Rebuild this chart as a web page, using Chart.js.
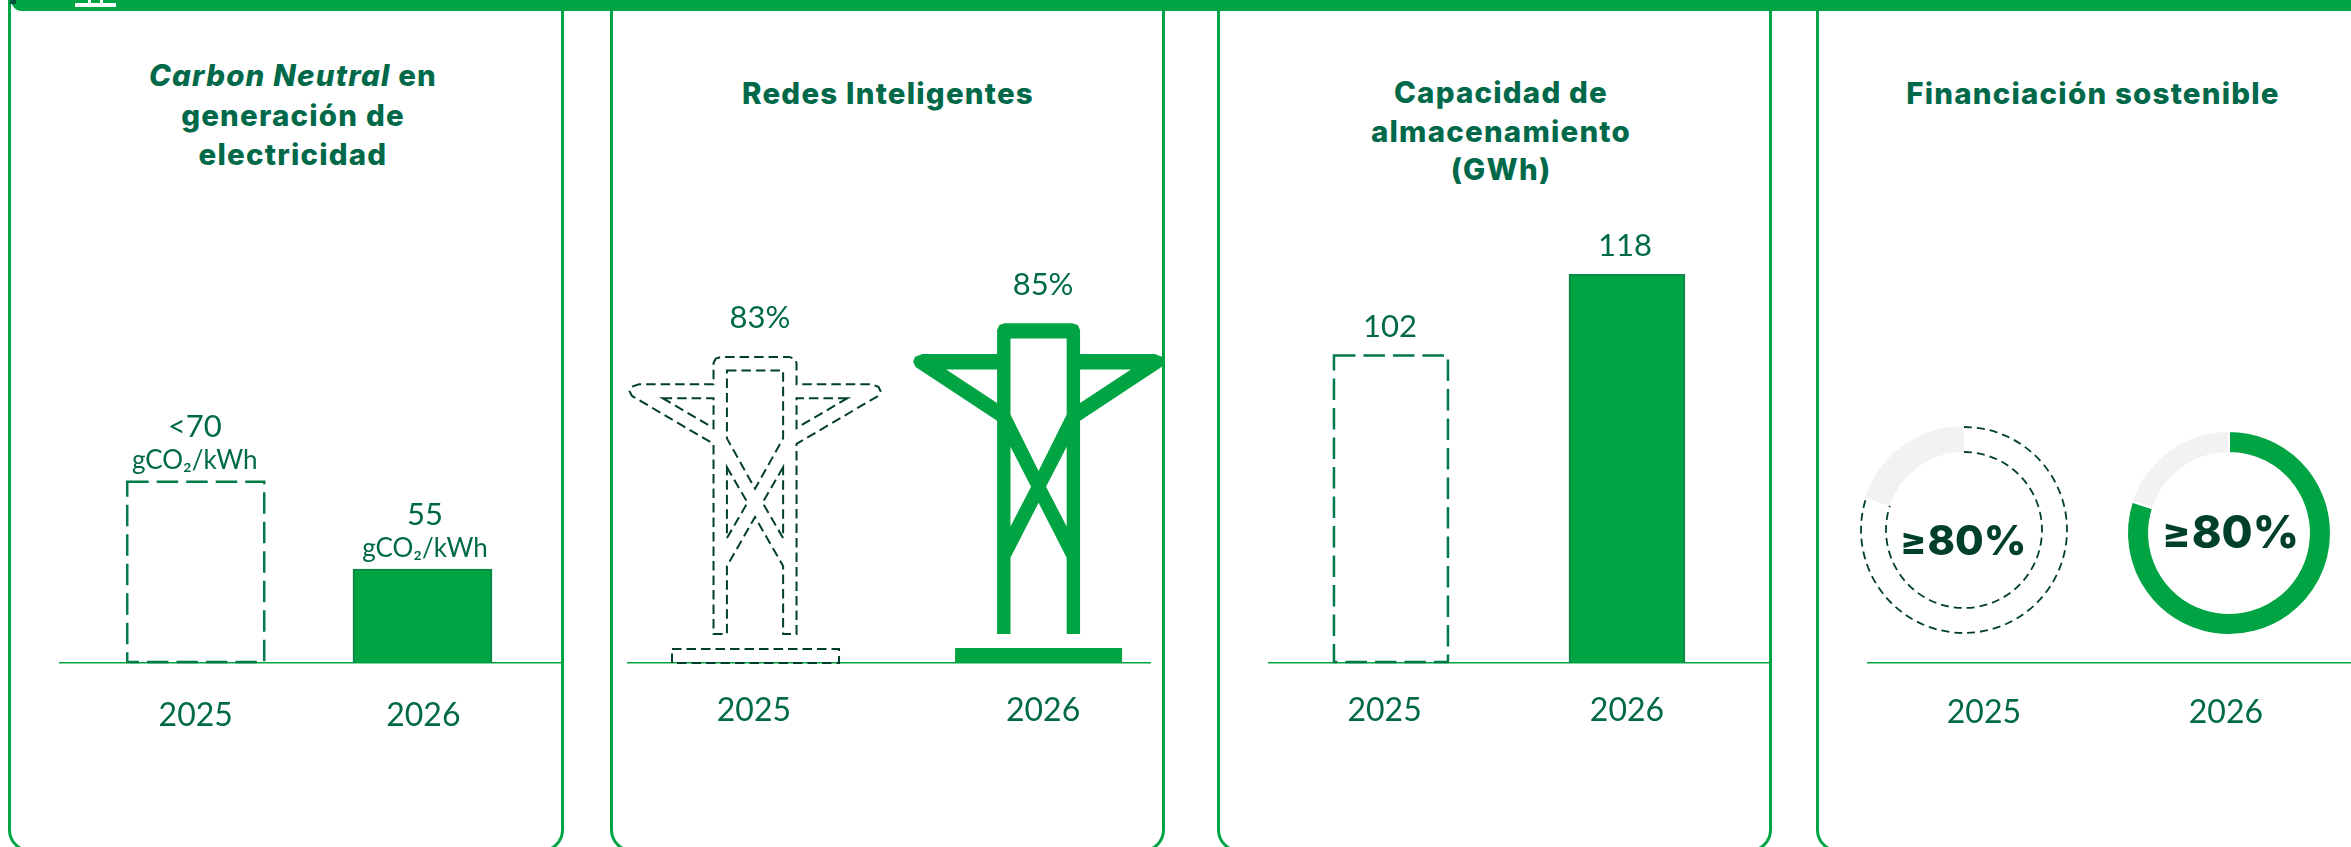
<!DOCTYPE html>
<html lang="es">
<head>
<meta charset="utf-8">
<title>Objetivos 2025-2026</title>
<script src="https://cdn.jsdelivr.net/npm/chart.js@4"></script>
<style>
  html, body { margin: 0; background: #fff; }
  #page { position: relative; width: 2351px; height: 847px; overflow: hidden; }
  #page canvas { position: absolute; top: 0; }
  .topbar { position: absolute; left: 11px; right: 0; top: 0; height: 11px; background: #00a443; border-bottom-left-radius: 20px; }
  .corner { position: absolute; left: 10px; top: 0; width: 6px; height: 4px; background: #00563a; }
  .icon { position: absolute; background: #fff; }
  .card { position: absolute; top: -30px; height: 882px; border: 3px solid #00a443; border-radius: 22px; box-sizing: border-box; background: #fff; }
  .title { position: absolute; transform: translateX(-50%); text-align: center; white-space: nowrap; font: 800 29.5px/38.5px Inter, sans-serif; letter-spacing: 1.2px; color: #00694a; }
</style>
</head>
<body>
<div id="page">
  <div class="card" style="left:8px;width:556px"></div>
  <div class="card" style="left:610px;width:555px"></div>
  <div class="card" style="left:1217px;width:555px"></div>
  <div class="card" style="left:1816px;width:600px"></div>
  <div class="topbar"></div>
  <div class="corner"></div>
  <div class="icon" style="left:75px;top:3px;width:41px;height:4px"></div>
  <div class="icon" style="left:88px;top:0;width:3px;height:4px"></div>
  <div class="icon" style="left:100px;top:0;width:3px;height:4px"></div>

  <div class="title" style="left:293px;top:56px;line-height:39.5px"><em>Carbon Neutral</em> en<br>generación de<br>electricidad</div>
  <div class="title" style="left:888px;top:74px">Redes Inteligentes</div>
  <div class="title" style="left:1501px;top:73px">Capacidad de<br>almacenamiento<br>(GWh)</div>
  <div class="title" style="left:2093px;top:74px">Financiación sostenible</div>

  <canvas id="carbonChart" style="left:59px" width="502" height="847"></canvas>
  <canvas id="redesChart" style="left:612px" width="556" height="847"></canvas>
  <canvas id="storageChart" style="left:1268px" width="502" height="847"></canvas>
  <canvas id="financeAxis" style="left:1867px" width="484" height="847"></canvas>
  <canvas id="finance2025" style="left:1844px;top:410px" width="240" height="240"></canvas>
  <canvas id="finance2026" style="left:2109px;top:413px" width="240" height="240"></canvas>
</div>

<script>
const years = ["2025", "2026"];

const carbonValues = [70, 55];
const carbonLabels = ["<70", "55"];
const carbonUnit = "gCO₂/kWh";

const redesValues = [83, 85];
const redesLabels = ["83%", "85%"];

const storageValues = [102, 118];
const storageLabels = ["102", "118"];

const financeValues = [80, 80];
const financeLabels = ["≥80%", "≥80%"];

const GREEN = "#00a443";
const TEXT = "#00694a";
const DARK = "#00402a";
const GREY = "#f2f2f2";
const BASE_Y = 663; // axis line sits here in every panel
const HEIGHT = 847;

// Pylon drawing: [px from the centre, fraction from top to leg ends]
const pylonOuter = [
  [-41.5, 0.022], [-39.2, 0.006], [-33.9, 0], [33.9, 0], [39.2, 0.006], [41.5, 0.022],
  [41.5, 0.099], [116, 0.099], [123.5, 0.108], [125.5, 0.124], [123, 0.141], [41.5, 0.314],
  [41.5, 1], [28.1, 1], [28.1, 0.755], [0, 0.578], [-28.1, 0.755], [-28.1, 1], [-41.5, 1],
  [-41.5, 0.314], [-123, 0.141], [-125.5, 0.124], [-123.5, 0.108], [-116, 0.099], [-41.5, 0.099],
];
const pylonHoles = [
  [[-28.1, 0.049], [28.1, 0.049], [28.1, 0.294], [0, 0.476], [-28.1, 0.294]],
  [[-28.1, 0.398], [-7.5, 0.526], [-28.1, 0.654]],
  [[28.1, 0.398], [7.5, 0.526], [28.1, 0.654]],
  [[-92.4, 0.149], [-41.5, 0.149], [-41.5, 0.257]],
  [[92.4, 0.149], [41.5, 0.149], [41.5, 0.257]],
];

// x axis on a linear scale so the two years can sit off-centre like the original
function yearAxis(min, max, padding, shift) {
  return {
    type: "linear",
    min: min,
    max: max,
    offset: false, // bar charts switch this on by default
    border: { display: true, color: GREEN, width: 1.5 },
    grid: { display: false, drawTicks: false },
    afterBuildTicks(scale) {
      scale.ticks = [{ value: shift[0] }, { value: 1 + shift[1] }];
    },
    afterFit(scale) {
      scale.height = HEIGHT - BASE_Y;
    },
    ticks: {
      padding: padding,
      autoSkip: false,
      maxRotation: 0,
      color: TEXT,
      font: { family: "Lato", size: 32 },
      callback: (value) => years[Math.round(value)],
    },
  };
}

function hiddenY(min, max) {
  return { display: false, min: min, max: max };
}

function barPoints(values) {
  return values.map((v, i) => ({ x: i, y: v }));
}

// text above each bar, with an optional smaller unit line under the value
const barLabels = {
  id: "barLabels",
  afterDatasetsDraw(chart, args, opts) {
    const ctx = chart.ctx;
    chart.getDatasetMeta(0).data.forEach((bar, i) => {
      ctx.save();
      ctx.fillStyle = TEXT;
      ctx.textAlign = "center";
      ctx.textBaseline = "middle";
      ctx.font = "31px Lato";
      ctx.fillText(opts.texts[i], bar.x + opts.shift[i], bar.y - opts.gap);
      if (opts.unit) {
        ctx.font = "26px Lato";
        ctx.fillText(opts.unit, bar.x + opts.shift[i], bar.y - 20);
      }
      ctx.restore();
    });
  },
};

// first bar of a panel is an empty dashed box, Chart.js bars have no borderDash
const dashedBar = {
  id: "dashedBar",
  afterDatasetsDraw(chart) {
    const bar = chart.getDatasetMeta(0).data[0];
    const ctx = chart.ctx;
    ctx.save();
    ctx.strokeStyle = "#007a48";
    ctx.lineWidth = 2.5;
    ctx.setLineDash([21.5, 8]);
    ctx.strokeRect(bar.x - bar.width / 2 + 1, bar.y + 1, bar.width - 2, bar.base - bar.y - 2);
    ctx.restore();
  },
};

function tracePolygon(ctx, points, cx, top, legs) {
  points.forEach((p, i) => {
    const x = cx + p[0];
    const y = top + p[1] * legs;
    if (i === 0) ctx.moveTo(x, y);
    else ctx.lineTo(x, y);
  });
  ctx.closePath();
}

// pylons take their height from the bar they replace
const pylons = {
  id: "pylons",
  afterDatasetsDraw(chart) {
    const ctx = chart.ctx;
    chart.getDatasetMeta(0).data.forEach((bar, i) => {
      const legs = bar.base - 29 - bar.y;
      ctx.save();
      ctx.beginPath();
      tracePolygon(ctx, pylonOuter, bar.x, bar.y, legs);
      pylonHoles.forEach((hole) => tracePolygon(ctx, hole, bar.x, bar.y, legs));
      if (i === 0) {
        ctx.strokeStyle = DARK;
        ctx.lineWidth = 2;
        ctx.setLineDash([9.5, 5]);
        ctx.stroke();
        ctx.strokeRect(bar.x - 83, bar.base - 14, 167, 14);
      } else {
        ctx.fillStyle = GREEN;
        ctx.fill("evenodd");
        ctx.fillRect(bar.x - 83.5, bar.base - 15, 167, 15);
      }
      ctx.restore();
    });
  },
};

const carbonMin = 39;
const redesMin = 64.86;
const storageMin = 40.4;

new Chart(document.getElementById("carbonChart"), {
  type: "bar",
  data: {
    datasets: [{
      data: barPoints(carbonValues),
      base: carbonMin,
      backgroundColor: ["rgba(0,0,0,0)", GREEN],
      borderColor: ["rgba(0,0,0,0)", "#0a8646"],
      borderWidth: 2,
      barThickness: 139,
    }],
  },
  options: {
    responsive: false,
    animation: false,
    plugins: {
      legend: { display: false },
      tooltip: { enabled: false },
      barLabels: { texts: carbonLabels, unit: carbonUnit, gap: 54, shift: [-1, 2.5] },
    },
    scales: { x: yearAxis(-0.603, 1.611, 33, [0, 0.004]), y: hiddenY(carbonMin, 151.8) },
  },
  plugins: [dashedBar, barLabels],
});

new Chart(document.getElementById("redesChart"), {
  type: "bar",
  data: {
    datasets: [{
      data: barPoints(redesValues),
      base: redesMin,
      backgroundColor: "rgba(0,0,0,0)",
      barThickness: 83,
    }],
  },
  options: {
    responsive: false,
    animation: false,
    layout: { padding: { left: 16, right: 18 } },
    plugins: {
      legend: { display: false },
      tooltip: { enabled: false },
      barLabels: { texts: redesLabels, gap: 38.5, shift: [5, 4.5] },
    },
    scales: { x: yearAxis(-0.448, 1.393, 28, [-0.004, 0.016]), y: hiddenY(redesMin, 104.15) },
  },
  plugins: [pylons, barLabels],
});

new Chart(document.getElementById("storageChart"), {
  type: "bar",
  data: {
    datasets: [{
      data: barPoints(storageValues),
      base: storageMin,
      backgroundColor: ["rgba(0,0,0,0)", GREEN],
      borderColor: ["rgba(0,0,0,0)", "#0a8646"],
      borderWidth: 2,
      barThickness: 116,
    }],
  },
  options: {
    responsive: false,
    animation: false,
    plugins: {
      legend: { display: false },
      tooltip: { enabled: false },
      barLabels: { texts: storageLabels, gap: 28, shift: [-1, -2] },
    },
    scales: { x: yearAxis(-0.521, 1.606, 28, [-0.027, 0]), y: hiddenY(storageMin, 172.8) },
  },
  plugins: [dashedBar, barLabels],
});

// panel 4: years and baseline only, the rings are separate doughnuts on top
new Chart(document.getElementById("financeAxis"), {
  type: "bar",
  data: { datasets: [{ data: [] }] },
  options: {
    responsive: false,
    animation: false,
    plugins: { legend: { display: false }, tooltip: { enabled: false } },
    scales: { x: yearAxis(-0.483, 1.517, 30, [0, 0]), y: hiddenY(0, 1) },
  },
});

// the ≥ sign is smaller than the digits in the original
const ringText = {
  id: "ringText",
  afterDatasetsDraw(chart, args, opts) {
    const arc = chart.getDatasetMeta(0).data[0];
    const ctx = chart.ctx;
    const sign = opts.text.charAt(0);
    const rest = opts.text.slice(1);
    ctx.save();
    ctx.fillStyle = DARK;
    ctx.textBaseline = "alphabetic";
    ctx.font = "800 " + opts.size + "px Inter";
    const restWidth = ctx.measureText(rest).width;
    const right = arc.x + opts.dx + opts.width / 2;
    ctx.textAlign = "right";
    ctx.fillText(rest, right, arc.y + opts.dy);
    ctx.font = "800 " + opts.size * 0.92 + "px Inter";
    ctx.fillText(sign, right - restWidth - 1, arc.y + opts.dy);
    ctx.restore();
  },
};

// dashed edges along the filled part of the 2025 ring, no radial sides
const dashedRing = {
  id: "dashedRing",
  afterDatasetsDraw(chart) {
    const arc = chart.getDatasetMeta(0).data[0];
    const ctx = chart.ctx;
    ctx.save();
    ctx.strokeStyle = DARK;
    ctx.lineWidth = 1.8;
    ctx.setLineDash([8, 5]);
    [arc.outerRadius - 1, arc.innerRadius].forEach((r) => {
      ctx.beginPath();
      ctx.arc(arc.x, arc.y, r, arc.startAngle, arc.endAngle);
      ctx.stroke();
    });
    ctx.restore();
  },
};

new Chart(document.getElementById("finance2025"), {
  type: "doughnut",
  data: {
    datasets: [{
      data: [financeValues[0], 100 - financeValues[0]],
      backgroundColor: ["rgba(0,0,0,0)", GREY],
      borderWidth: 0,
    }],
  },
  options: {
    responsive: false,
    animation: false,
    radius: 104,
    cutout: "75%",
    plugins: {
      legend: { display: false },
      tooltip: { enabled: false },
      ringText: { text: financeLabels[0], size: 41.5, width: 119, dx: 3, dy: 25 },
    },
  },
  plugins: [dashedRing, ringText],
});

new Chart(document.getElementById("finance2026"), {
  type: "doughnut",
  data: {
    datasets: [{
      data: [financeValues[1], 100 - financeValues[1]],
      backgroundColor: [GREEN, GREY],
      borderColor: "#fff",
      borderWidth: 2,
    }],
  },
  options: {
    responsive: false,
    animation: false,
    radius: 102,
    cutout: "78.4%",
    plugins: {
      legend: { display: false },
      tooltip: { enabled: false },
      ringText: { text: financeLabels[1], size: 45, width: 128, dx: 6, dy: 15 },
    },
  },
  plugins: [ringText],
});
</script>
</body>
</html>
